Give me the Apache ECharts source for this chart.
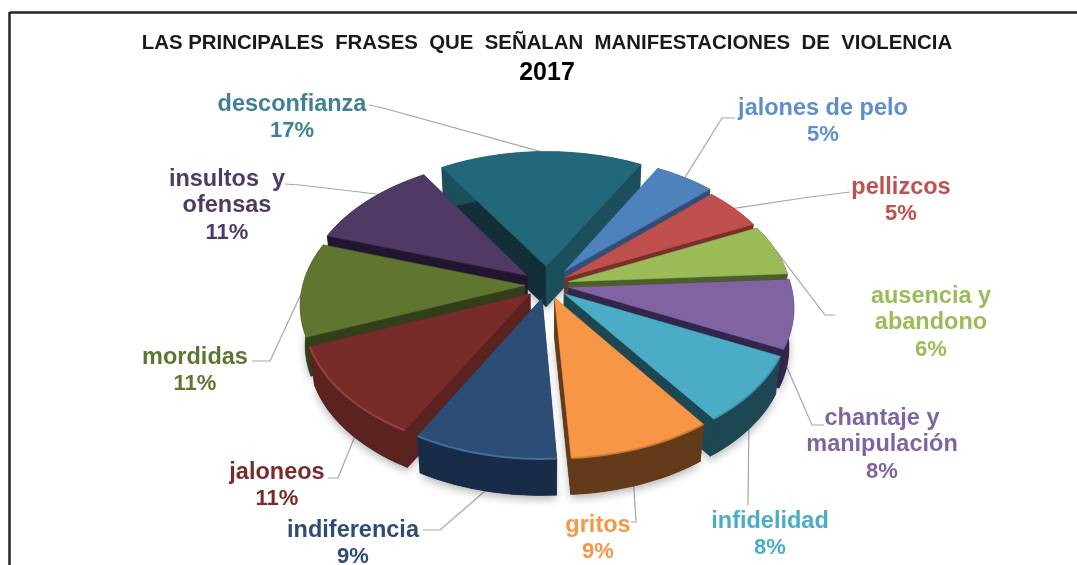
<!DOCTYPE html>
<html><head><meta charset="utf-8">
<style>html,body{margin:0;padding:0;background:#fff}#c{width:1077px;height:565px}</style>
<script src="https://cdn.jsdelivr.net/npm/echarts@6/dist/echarts.min.js"></script>
</head><body><div id="c"></div>
<script>
const titleText = 'LAS PRINCIPALES  FRASES  QUE  SEÑALAN  MANIFESTACIONES  DE  VIOLENCIA';
const subtitleText = '2017';
const categories = ['jalones de pelo','pellizcos','ausencia y\nabandono','chantaje y\nmanipulación','infidelidad','gritos','indiferencia','jaloneos','mordidas','insultos  y\nofensas','desconfianza'];
const values = [5,5,6,8,8,9,9,11,11,11,17];
const topColors = ['#4f81bd','#c0504d','#9bbb59','#8064a2','#4bacc6','#f79646','#2c4d75','#772c2a','#5f7530','#4f3a66','#23687a'];
const wallColors = ['#2f4f78','#7a2f2d','#4c5e2a','#34254a','#1d4853','#643b1a','#182c47','#5a2320','#333f1a','#221530','#1b4f5c'];
const startWallColors = ['#2f4f78','#7a2f2d','#4c5e2a','#34254a','#1d4853','#643b1a','#182c47','#5a2320','#333f1a','#221530','#122f37'];
const labelColors = ['#5f8fca','#c0504d','#9bbb59','#8064a2','#4bacc6','#f79646','#2c4d75','#772c2a','#5f7530','#4f3a66','#3f8095'];
const rimHighlights = [null,null,null,null,'#3f95ad','#cf7a34','#4a78ab','#a04a46',null,null,null];
const explode = [0.13,0.1,0.1,0.1,0.1,0.1,0.1,0.1,0.1,0.115,0.14];
// layout: label centre, leader elbow points, where on the rim the leader starts (fraction of slice, fraction of depth)
const labelPos = [[823,122],[901,201],[931,323],[882,445],[770,535],[598,539],[353,544],[277,486],[195,371],[227,206],[292,118]];
const leaderElbows = [[[722,118],[735,118]],[[810,197],[850,192]],[[825,315],[835,315]],[[812,425],[824,425]],[[748,505]],[[636,522],[631,522]],[[440,530],[423,530]],[[338,478],[328,478]],[[270,361],[252,361]],[[300,185],[285,184]],[[383,108],[369,105]]];
const leaderStart = [[.5,0],[.5,0],[.5,0],[.9,.5],[.52,1],[.55,1],[.5,1],[.4,.8],[.45,0],[.6,0],[.5,0]];

const CX = 547, CY = 285, RX = 222, RY = 135, P = 0.135, START = 29, DEPTH = 40, SHRINK = 0.98;
const NAME_FONT = 'bold 23.5px "Liberation Sans", Arial, sans-serif', PCT_FONT = 'bold 22px "Liberation Sans", Arial, sans-serif';
const total = values.reduce((a,b)=>a+b,0);
const spans = []; { let c = START; values.forEach(v => { const s = v/total*360; spans.push([c,c+s]); c += s; }); }
const rad = d => d*Math.PI/180;
function project(theta, r, i) {
  const mid = rad((spans[i][0]+spans[i][1])/2), t = rad(theta);
  const X = r*Math.sin(t) + explode[i]*Math.sin(mid);
  const Y = -r*Math.cos(t) - explode[i]*Math.cos(mid);
  const w = 1 - P*Y;
  return [CX + RX*X/w, CY + RY*Y/w];
}
const lower = p => [CX + (p[0]-CX)*SHRINK, CY + (p[1]-CY)*SHRINK + DEPTH];
function rimPoints(i) {
  const [a,b] = spans[i], pts = [], n = Math.ceil((b-a)/1.5);
  for (let k=0;k<=n;k++) pts.push(project(a+(b-a)*k/n,1,i));
  return pts;
}
// painter's order: farthest slice first, derived from the slices' mid angles
const order = values.map((_,i)=>i).sort((p,q)=>{
  const m = i => Math.cos(rad((spans[i][0]+spans[i][1])/2));
  return m(q)-m(p);
});
function poly(points, fill, extra) {
  return Object.assign({type:'polygon', silent:true, shape:{points}, style:{fill, stroke:fill, lineWidth:0.5}}, extra||{});
}
function renderItem(params, api) {
  const i = api.value(0);
  const rim = rimPoints(i), apex = project(0,0,i), low = rim.map(lower), lowApex = lower(apex);
  const children = [];
  const [ft,fz] = leaderStart[i];
  const tp = project(spans[i][0]+(spans[i][1]-spans[i][0])*ft,1,i), lp = lower(tp);
  const start = [tp[0]+(lp[0]-tp[0])*fz, tp[1]+(lp[1]-tp[1])*fz];
  children.push({type:'polyline', silent:true, shape:{points:[start].concat(leaderElbows[i])}, style:{stroke:'#a6a6a6', lineWidth:1.2, fill:null}});
  children.push(poly([lowApex].concat(low), wallColors[i], {style:{fill:wallColors[i], shadowBlur:9, shadowColor:'rgba(0,0,0,0.28)', shadowOffsetY:4}}));
  children.push(poly([apex,rim[0],low[0],lowApex], startWallColors[i]));
  children.push(poly([apex,rim[rim.length-1],low[low.length-1],lowApex], wallColors[i]));
  children.push(poly(rim.concat(low.slice().reverse()), wallColors[i]));
  children.push(poly([apex].concat(rim), topColors[i]));
  if (rimHighlights[i]) children.push({type:'polyline', silent:true, shape:{points:rim}, style:{stroke:rimHighlights[i], lineWidth:2, fill:null, opacity:0.8}});
  const lines = categories[i].split('\n').map(s=>'{n|'+s+'}');
  lines.push('{p|'+api.value(1)+'%}');
  children.push({type:'text', silent:true, style:{text:lines.join('\n'), x:labelPos[i][0], y:labelPos[i][1], fill:labelColors[i], align:'center', verticalAlign:'middle',
    rich:{n:{font:NAME_FONT, lineHeight:26.7, fill:labelColors[i]}, p:{font:PCT_FONT, lineHeight:26.7, fill:labelColors[i]}}}});
  return {type:'group', children};
}
const chart = echarts.init(document.getElementById('c'), null, {renderer:'canvas'});
chart.setOption({
  animation:false,
  backgroundColor:'#ffffff',
  title:{text:titleText, subtext:subtitleText, left:542, top:28, textAlign:'center', itemGap:8,
    textStyle:{fontFamily:'"Liberation Sans"', fontWeight:'bold', fontSize:20.4, color:'#1a1a1a'},
    subtextStyle:{fontFamily:'"Liberation Sans"', fontWeight:'bold', fontSize:25, color:'#000'}},
  graphic:[
    {type:'line', silent:true, shape:{x1:9.5,y1:12.5,x2:1077,y2:12.5}, style:{stroke:'#262626', lineWidth:2.5}},
    {type:'line', silent:true, shape:{x1:9.5,y1:12,x2:9.5,y2:565}, style:{stroke:'#262626', lineWidth:2.5}}
  ],
  series:[{type:'custom', coordinateSystem:'none', renderItem, clip:false,
    data:order.map(i=>[i,values[i]])}]
});
</script></body></html>
